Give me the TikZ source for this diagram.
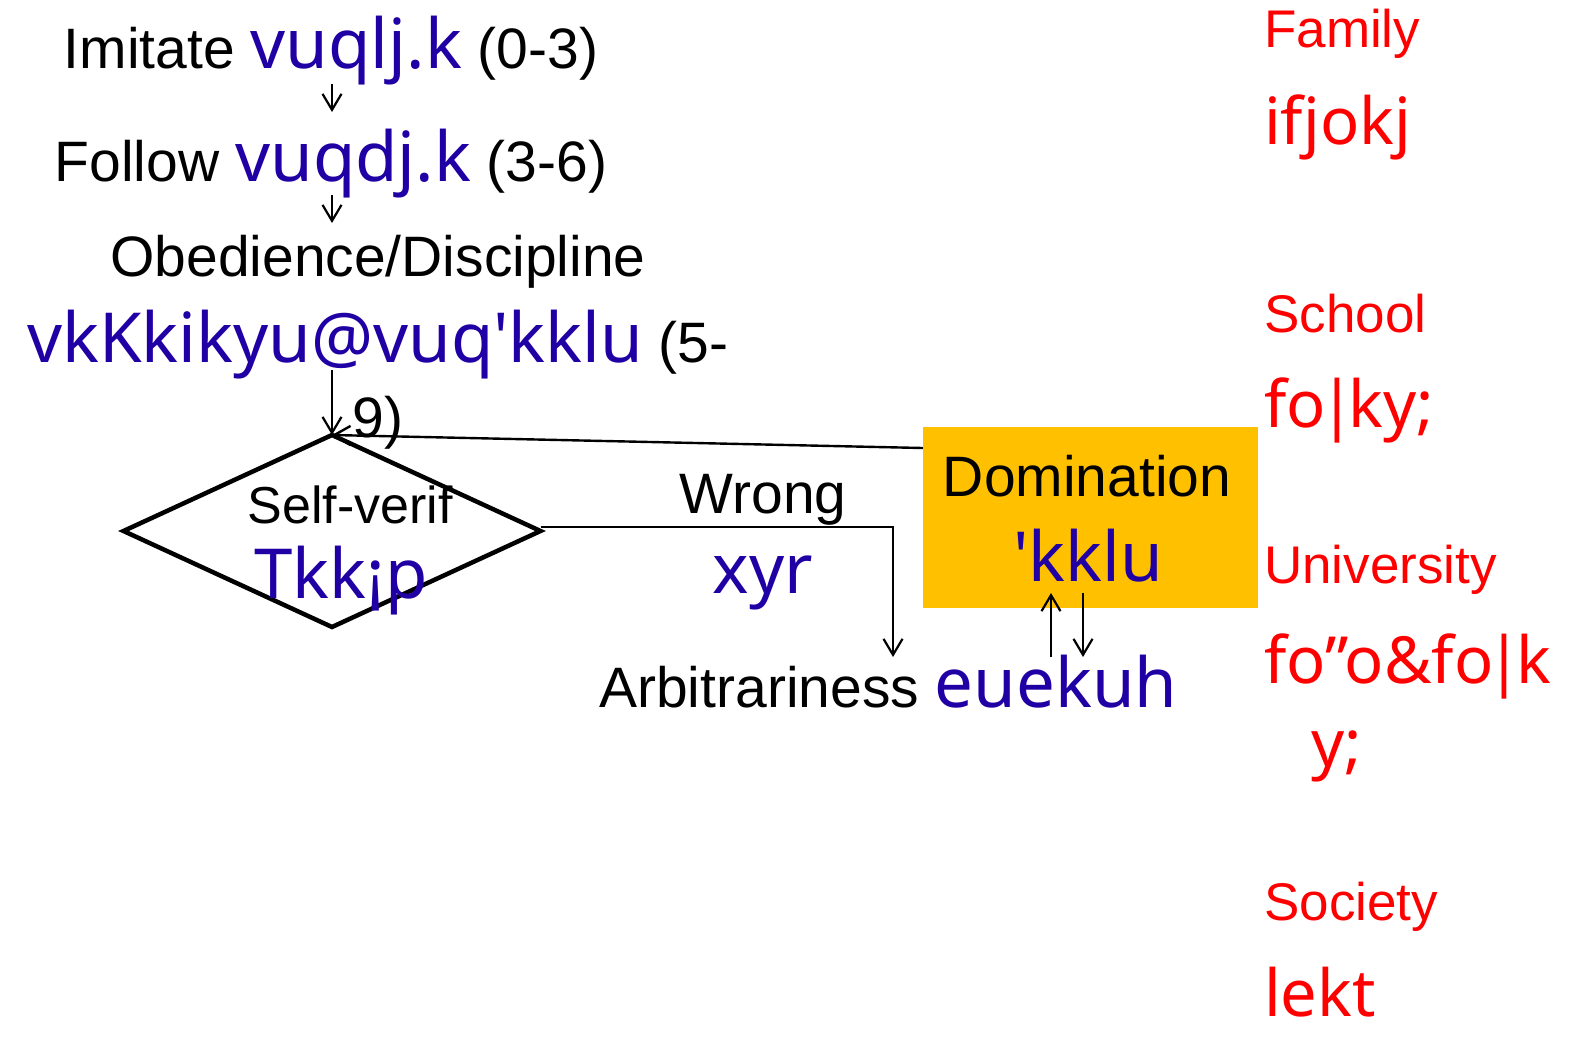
\documentclass[tikz,border=0pt]{standalone}
\usepackage{fontspec}
\setmainfont{Liberation Sans}
\newfontfamily\kfont{Noto Sans}[Ligatures=TeXOff]
\usetikzlibrary{shapes.geometric,arrows.meta}
\definecolor{hinblue}{RGB}{32,0,164}
\definecolor{domfill}{RGB}{255,192,0}
% Kruti Dev style transliterated words, set in blue
\newcommand{\hin}[1]{{\kfont\fontsize{69}{74}\selectfont\color{hinblue}#1}}
% tight, heavy bar as used by the legacy font
\newcommand{\kbar}{{\kern-0.1em\bfseries|\kern-0.1em}}

\begin{document}
\begin{tikzpicture}[x=1pt,y=-1pt,
  lbl/.style={inner sep=0pt, font=\fontsize{57}{64}\selectfont},
  redlbl/.style={inner sep=0pt, anchor=base west, text=red, font=\fontsize{53}{60}\selectfont},
  redhin/.style={inner sep=0pt, anchor=base west, text=red, font=\kfont\fontsize{65}{70}\selectfont},
  tip/.style={-{Straight Barb[length=16pt,width=19pt]}},
  arr/.style={tip, line width=2.2pt},
  link/.style={line width=2.4pt}]
\useasboundingbox (0,0) rectangle (1576,1037);

% left column: stages of development
\node[lbl, anchor=base] (imit) at (331,68) {Imitate \hin{vuqlj.k} (0-3)};
\node[lbl, anchor=base] (foll) at (331,181) {Follow \hin{vuqdj.k} (3-6)};
\node[lbl, anchor=base] (obed) at (378,276) {Obedience/Discipline};
\node[lbl, anchor=base] (obhin) at (378,362) {\hin{vkKkikyu@vuq'kklu} (5-};
\node[lbl, anchor=base] (obnum) at (378,437) {9)};

\coordinate (a1s) at (332,84);  \coordinate (a1e) at (332,112);
\coordinate (a2s) at (332,195); \coordinate (a2e) at (332,223);
\coordinate (a3s) at (332,370);
\draw[arr] (a1s) -- (a1e);
\draw[arr] (a2s) -- (a2e);

% decision diamond
\node[diamond, draw, line width=4.5pt, minimum width=417pt, minimum height=192pt,
      inner sep=0pt, outer sep=0pt] (sv) at (332,531) {};
\node[lbl, anchor=base, font=\fontsize{52}{60}\selectfont] (svtxt) at (350,523) {Self-verif};
\node[inner sep=0pt, anchor=base] (svhin) at (341,598) {\hin{Tkk¡p}};
\draw[arr] (a3s) -- (sv.north);

% domination box
\node[fill=domfill, minimum width=335pt, minimum height=181pt, inner sep=0pt] (dom) at (1090.5,517.5) {};
\node[lbl, anchor=base] (domtxt) at (1087,496) {Domination};
\node[inner sep=0pt, anchor=base] (domhin) at (1088,581) {\hin{'kklu}};
\draw[link, tip] ([yshift=69.5pt]dom.west) -- (sv.north);

% wrong branch to arbitrariness
\coordinate (wc) at (893,527);
\coordinate (we) at (893,657);
\draw[arr] ([yshift=4pt]sv.east) -- (wc) -- (we);
\node[lbl, anchor=base] (wrong) at (763,513) {Wrong};
\node[inner sep=0pt, anchor=base] (wrhin) at (763,593) {\hin{xyr}};
\node[lbl, anchor=base west] (arb) at (599,707) {Arbitrariness \hin{euekuh}};

\coordinate (up1) at (1051,657); \coordinate (up2) at (1051,593);
\coordinate (dn1) at (1083,593); \coordinate (dn2) at (1083,657);
\draw[arr] (up1) -- (up2);
\draw[arr] (dn1) -- (dn2);

% right column: institutions
\node[redlbl] (fam) at (1264,47) {Family};
\node[redhin] (famh) at (1264,144) {ifjokj};
\node[redlbl] (sch) at (1264,332) {School};
\node[redhin] (schh) at (1264,427) {fo\kbar ky;};
\node[redlbl] (uni) at (1264,583) {University};
\node[redhin] (unih) at (1264,683) {fo”o\&fo\kbar k};
\node[redhin] (unih2) at (1311,766) {y;};
\node[redlbl] (soc) at (1264,920) {Society};
\node[redhin] (soch) at (1264,1016) {lekt};
\end{tikzpicture}
\end{document}
